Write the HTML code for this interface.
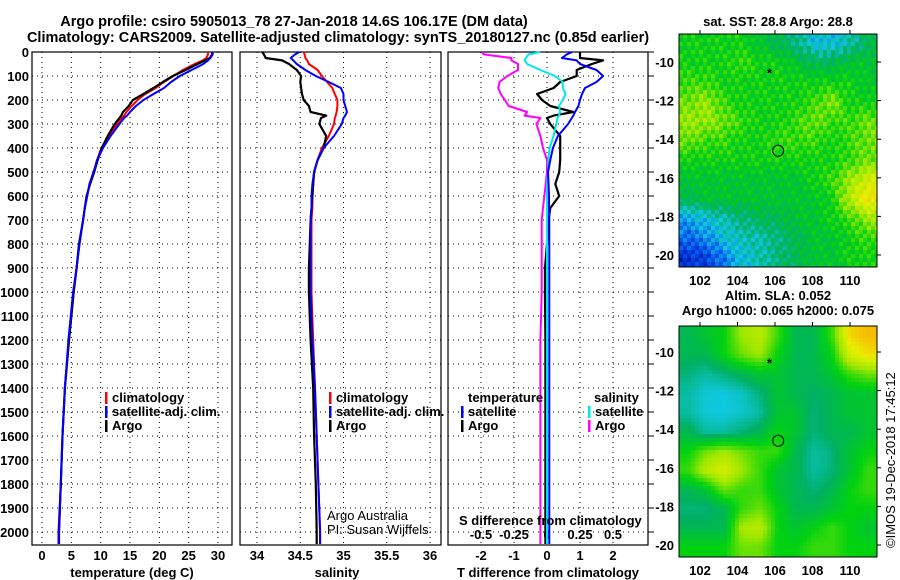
<!DOCTYPE html>
<html><head><meta charset="utf-8"><style>
body{margin:0;background:#fff}
svg{display:block;font-family:"Liberation Sans",sans-serif}
.t{font-weight:bold;font-size:13px}
.ti{font-weight:bold;font-size:14.5px}
.n{font-size:13px}
</style></head><body>
<svg id="s" width="900" height="580" viewBox="0 0 900 580" xmlns="http://www.w3.org/2000/svg">
<text class="ti" x="294" y="26" text-anchor="middle">Argo profile: csiro 5905013_78 27-Jan-2018 14.6S 106.17E (DM data)</text>
<text class="ti" x="338" y="42" text-anchor="middle">Climatology: CARS2009. Satellite-adjusted climatology: synTS_20180127.nc (0.85d earlier)</text>
<text class="t" x="778" y="26" text-anchor="middle">sat. SST: 28.8 Argo: 28.8</text>
<text class="t" x="778" y="300" text-anchor="middle">Altim. SLA: 0.052</text>
<text class="t" x="778" y="315" text-anchor="middle">Argo h1000: 0.065 h2000: 0.075</text>
<text class="n" x="0" y="0" transform="translate(895,548) rotate(-90)">©IMOS 19-Dec-2018 17:45:12</text>
<g id="g"></g>
</svg>
<script>
// depth levels (m)
const depths=[0,10,25,35,50,75,100,125,150,175,200,225,250,265,275,300,350,400,450,500,550,600,650,700,800,900,1000,1200,1400,1600,1800,2000];
// temperature (deg C)
const argoT=[29.0,29.0,28.6,27.8,26.5,24.5,22.3,20.6,19.0,17.3,15.5,14.8,13.8,13.5,13.2,12.4,11.2,10.2,9.5,8.9,8.2,7.6,7.3,7.0,6.3,5.9,5.4,4.6,3.9,3.5,3.2,2.9];
const climT=[28.3,28.3,28.0,27.4,26.0,24.0,22.4,20.8,19.4,17.6,16.3,15.3,14.4,14.0,13.6,12.8,11.4,10.1,9.4,8.8,8.1,7.7,7.3,7.0,6.4,5.9,5.4,4.6,3.9,3.5,3.2,2.8];
const satT=[29.1,29.1,28.7,28.3,27.5,25.5,23.5,22.0,20.8,19.0,17.3,16.0,15.0,14.5,14.0,13.2,11.7,10.4,9.4,8.8,8.1,7.7,7.3,7.0,6.4,5.9,5.3,4.5,3.9,3.5,3.2,2.9];
// salinity
const argoS=[34.06,34.08,34.1,34.29,34.37,34.46,34.51,34.5,34.51,34.52,34.54,34.6,34.62,34.8,34.74,34.72,34.8,34.77,34.7,34.66,34.65,34.64,34.63,34.62,34.61,34.6,34.6,34.62,34.65,34.66,34.68,34.69];
const climS=[34.54,34.55,34.56,34.58,34.6,34.7,34.75,34.81,34.87,34.9,34.93,34.93,34.92,34.91,34.9,34.89,34.83,34.75,34.7,34.66,34.65,34.64,34.64,34.63,34.63,34.63,34.63,34.65,34.67,34.69,34.71,34.73];
const satS=[34.49,34.44,34.39,34.42,34.46,34.56,34.68,34.83,34.97,35.0,35.0,35.02,35.04,35.02,35.0,34.98,34.89,34.77,34.7,34.66,34.64,34.63,34.63,34.62,34.62,34.62,34.62,34.64,34.67,34.69,34.71,34.73];
// differences from climatology
const argoDT=[1.0,1.0,1.0,1.7,1.36,0.9,0.9,0.4,0.2,-0.3,-0.15,0.1,0.8,0.2,0,0.1,0.4,0.4,0.4,0.37,0.25,0.37,0.1,0.05,0,-0.06,-0.06,-0.05,-0.05,-0.05,-0.05,-0.05];
const satDT=[0.76,0.6,0.45,0.9,1.0,1.5,1.7,1.5,1.15,1.06,1.0,0.95,0.85,0.8,0.75,0.64,0.33,0.18,0.1,0.03,0.05,0.06,0.06,0.07,0.07,0.07,0.07,0.07,0.07,0.07,0.07,0.07];
const satDS=[-0.05,-0.14,-0.16,-0.17,-0.15,-0.05,0.06,0.12,0.12,0.14,0.12,0.09,0.1,0.09,0.08,0.07,0.05,0.02,0.01,0.01,0.0,0.0,0.0,0.0,0.0,0.0,0.0,0.0,0.0,0.0,0.0,0.0];
const argoDS=[-0.49,-0.48,-0.27,-0.27,-0.22,-0.22,-0.3,-0.36,-0.37,-0.35,-0.32,-0.29,-0.15,-0.17,-0.05,-0.08,-0.05,-0.03,0,0,-0.01,-0.02,-0.03,-0.04,-0.04,-0.04,-0.04,-0.05,-0.05,-0.05,-0.05,-0.05];
// tick labels
const depthTicks=[0,100,200,300,400,500,600,700,800,900,1000,1100,1200,1300,1400,1500,1600,1700,1800,1900,2000];
const tTicks=[0,5,10,15,20,25,30];
const sTicks=[34,34.5,35,35.5,36];
const sGrid=[34,34.25,34.5,34.75,35,35.25,35.5,35.75,36];
const dTTicks=[-2,-1,0,1,2];
const dSTicks=[-0.5,-0.25,0,0.25,0.5];
const lonTicks=[102,104,106,108,110];
const latTicks=[-10,-12,-14,-16,-18,-20];
// SST map values (0..1 colour index), rows north->south, cols west->east
const sstGrid=[
[.55,.55,.55,.55,.5,.45,.4,.3,.3,.35,.45],
[.55,.55,.55,.6,.55,.55,.5,.45,.45,.5,.5],
[.6,.6,.55,.55,.55,.55,.55,.55,.55,.55,.5],
[.65,.7,.6,.55,.55,.55,.55,.6,.68,.55,.55],
[.7,.7,.65,.6,.55,.55,.6,.65,.6,.6,.65],
[.65,.6,.6,.55,.55,.6,.6,.6,.55,.6,.65],
[.55,.55,.55,.55,.55,.55,.55,.55,.55,.6,.65],
[.5,.5,.5,.5,.5,.5,.5,.55,.6,.7,.8],
[.45,.5,.5,.5,.5,.5,.5,.5,.55,.75,.88],
[.25,.3,.35,.4,.45,.45,.5,.5,.55,.6,.7],
[.18,.22,.3,.35,.35,.4,.45,.5,.5,.55,.6],
[.08,.12,.2,.3,.35,.4,.45,.5,.5,.55,.55]];
const slaGrid=[
[.45,.5,.55,.7,.75,.6,.45,.45,.6,.9,.95],
[.45,.45,.55,.65,.7,.55,.45,.45,.55,.8,.88],
[.4,.36,.4,.45,.5,.5,.45,.45,.5,.6,.65],
[.36,.31,.3,.33,.4,.5,.45,.42,.45,.5,.5],
[.36,.31,.3,.32,.36,.5,.5,.4,.45,.5,.5],
[.45,.36,.36,.4,.45,.55,.5,.4,.45,.45,.5],
[.55,.65,.7,.65,.6,.6,.45,.36,.4,.5,.55],
[.6,.75,.82,.7,.6,.5,.45,.36,.4,.5,.6],
[.45,.5,.65,.6,.6,.5,.45,.4,.45,.55,.6],
[.4,.4,.45,.6,.65,.55,.45,.45,.5,.55,.55],
[.45,.45,.45,.72,.75,.55,.5,.55,.6,.55,.5],
[.55,.55,.55,.65,.65,.55,.55,.6,.6,.55,.55]];
const argoPos=[106.17,-14.6];
const otherPos=[105.7,-10.5];

const NS='http://www.w3.org/2000/svg';
const G=document.getElementById('g');
function mk(tag,at,parent){const e=document.createElementNS(NS,tag);for(const k in at)e.setAttribute(k,at[k]);(parent||G).appendChild(e);return e;}
function txt(s,x,y,cls,anchor){const e=mk('text',{x:x,y:y,class:cls,'text-anchor':anchor||'start'});e.textContent=s;return e;}
const yD=d=>52+d*0.24;
const panels=[{l:32,r:232},{l:240,r:441},{l:448,r:648}];
const xT=v=>42+v*(218-42)/30;
const xS=v=>257+(v-34)*86.5;
const xDT=v=>547+v*33;
const xDS=v=>547+v*132;
const PB=545;
panels.forEach((p,i)=>{
  depthTicks.forEach(d=>{const h=mk('line',{x1:p.l,x2:p.r,y1:yD(d),y2:yD(d),stroke:'#000','stroke-dasharray':'1,4','stroke-width':1});
  
  });
});
tTicks.forEach(v=>{const g=mk('line',{x1:xT(v),x2:xT(v),y1:52,y2:PB,stroke:'#000','stroke-dasharray':'1,4'});
 const t=txt(String(v),xT(v),560,'t','middle');});
sGrid.forEach(v=>{if((v*4)%2)return;const g=mk('line',{x1:xS(v),x2:xS(v),y1:52,y2:PB,stroke:'#000','stroke-dasharray':'1,4'});});
sTicks.forEach(v=>{const t=txt(String(v),xS(v),560,'t','middle');});
dTTicks.forEach(v=>{const g=mk('line',{x1:xDT(v),x2:xDT(v),y1:52,y2:PB,stroke:'#000','stroke-dasharray':'1,4'});
 const t=txt(String(v),xDT(v),560,'t','middle');});
dSTicks.forEach(v=>{const t=txt(String(v),xDS(v),539,'t','middle');});
depthTicks.forEach(d=>{const t=txt(String(d),29,yD(d)+5,'t','end');
 const k=mk('line',{x1:648,x2:654,y1:yD(d),y2:yD(d),stroke:'#000'});});
panels.forEach((p,i)=>{const f=mk('rect',{x:p.l,y:52,width:p.r-p.l,height:PB-52,fill:'none',stroke:'#000','stroke-width':1.2});
 });
function line(vals,xf,color,name,w){const pts=depths.map((d,i)=>xf(vals[i]).toFixed(1)+','+yD(d).toFixed(1));
 pts.push(xf(vals[vals.length-1]).toFixed(1)+','+(PB-1));
 const e=mk('polyline',{points:pts.join(' '),fill:'none',stroke:color,'stroke-width':w||2,'stroke-linejoin':'round'});
 
 }
line(climT,xT,'#ff0000','temp-climatology-line');
line(argoT,xT,'#000','temp-argo-line',2.2);
line(satT,xT,'#0000ff','temp-satellite-line');
line(climS,xS,'#ff0000','salinity-climatology-line');
line(argoS,xS,'#000','salinity-argo-line',2.2);
line(satS,xS,'#0000ff','salinity-satellite-line');
line(argoDS,xDS,'#ff00ff','sdiff-argo-line');
line(argoDT,xDT,'#000','tdiff-argo-line',2.2);
line(satDS,xDS,'#00e8e8','sdiff-satellite-line');
line(satDT,xDT,'#0000ff','tdiff-satellite-line');
function leg(x,y,color,label,name){const b=mk('rect',{x:x,y:y-10,width:2.5,height:12,fill:color});
 const t=txt(label,x+7,y,'t');}
leg(105,402,'#ff0000','climatology','legend-temp-climatology');
leg(105,416,'#0000ff','satellite-adj. clim.','legend-temp-satellite');
leg(105,430,'#000','Argo','legend-temp-argo');
leg(329,402,'#ff0000','climatology','legend-sal-climatology');
leg(329,416,'#0000ff','satellite-adj. clim.','legend-sal-satellite');
leg(329,430,'#000','Argo','legend-sal-argo');
let h=txt('temperature',468,402,'t');
h=txt('salinity',594,402,'t');
leg(461,416,'#0000ff','satellite','legend-tdiff-satellite');
leg(461,430,'#000','Argo','legend-tdiff-argo');
leg(588,416,'#00e8e8','satellite','legend-sdiff-satellite');
leg(588,430,'#ff00ff','Argo','legend-sdiff-argo');
h=txt('S difference from climatology',459,525,'t');
h=txt('Argo Australia',327,520,'n');
h=txt('PI: Susan Wijffels',327,534,'n');
h=txt('temperature (deg C)',132,577,'t','middle');
h=txt('salinity',337,577,'t','middle');
h=txt('T difference from climatology',548,577,'t','middle');
const stops=[[0,[0,16,160]],[.15,[0,80,240]],[.3,[16,200,224]],[.42,[0,176,100]],[.55,[0,210,16]],[.7,[160,232,0]],[.85,[232,240,0]],[1,[255,160,0]]];
function cmap(v){v=Math.max(0,Math.min(1,v));for(let i=1;i<stops.length;i++){if(v<=stops[i][0]){const a=stops[i-1],b=stops[i],f=(v-a[0])/(b[0]-a[0]);
 return 'rgb('+a[1].map((c,j)=>Math.round(c+(b[1][j]-c)*f)).join(',')+')';}}return 'rgb(255,160,0)';}
function drawMap(grid,top,bot,y10,y20,smooth,name){
 const L=679,R=877,lonX=lo=>700+(lo-102)*18.75;
 const latYf=la=>y10+(-10-la)*(y20-y10)/10;
 const g=mk('g',{});
 const rows=grid.length,cols=grid[0].length,cs=4;
 for(let y=top;y<bot;y+=cs){for(let x=L;x<R;x+=cs){
   let fx=(x+cs/2-L)/(R-L)*cols-0.5,fy=(y+cs/2-top)/(bot-top)*rows-0.5,v;
   fx=Math.max(0,Math.min(cols-1,fx));fy=Math.max(0,Math.min(rows-1,fy));
   const x0=Math.floor(fx),y0=Math.floor(fy),x1=Math.min(cols-1,x0+1),y1=Math.min(rows-1,y0+1),ax=fx-x0,ay=fy-y0;
   v=grid[y0][x0]*(1-ax)*(1-ay)+grid[y0][x1]*ax*(1-ay)+grid[y1][x0]*(1-ax)*ay+grid[y1][x1]*ax*ay;
   if(!smooth)v+=(((x*7+y*13)%11)-5)*0.012;
   const c=mk('rect',{x:x,y:y,width:Math.min(cs,R-x),height:Math.min(cs,bot-y),fill:cmap(v)},g);
   
   
 }}
 const fr=mk('rect',{x:L,y:top,width:R-L,height:bot-top,fill:'none',stroke:'#000'});
 lonTicks.forEach(lo=>{mk('line',{x1:lonX(lo),x2:lonX(lo),y1:top-4,y2:top,stroke:'#000'});
  const t=txt(String(lo),lonX(lo),bot+18,'t','middle');});
 latTicks.forEach(la=>{mk('line',{x1:R,x2:R+4,y1:latYf(la),y2:latYf(la),stroke:'#000'});
  const t=txt(String(la),674,latYf(la)+5,'t','end');});
 const m=mk('circle',{cx:lonX(argoPos[0]),cy:latYf(argoPos[1]),r:5.5,fill:'none',stroke:'#000','stroke-width':1});
 
 const s=txt('*',lonX(otherPos[0]),latYf(otherPos[1])+6,'t','middle');
}
drawMap(sstGrid,34,267,62,255,false,'sst-map');
drawMap(slaGrid,326,557,352,545,true,'sla-map');
</script>
</body></html>
